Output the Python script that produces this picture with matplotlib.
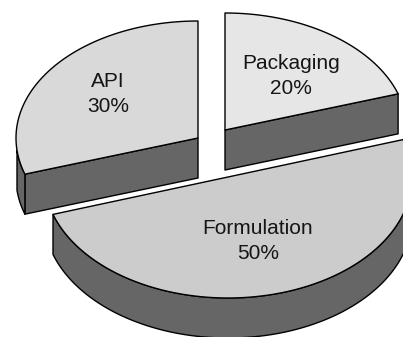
import numpy as np
import matplotlib
matplotlib.use("Agg")
import matplotlib.pyplot as plt
from matplotlib.patches import Polygon

# Cost share by development area
categories = ["Packaging", "Formulation", "API"]
shares = [20, 50, 30]

# Drawing constants, in pixel coordinates of the canvas
START_ANGLE = 90
DEPTH = 40
RADII = {"Packaging": (182, 117), "Formulation": (184, 121), "API": (182, 117)}
CENTRES = {"Packaging": (225, 130), "Formulation": (228, 177), "API": (198, 138)}
TOP_COLOURS = {"Packaging": "#e6e6e6", "Formulation": "#cccccc", "API": "#d9d9d9"}
WALL_COLOUR = "#666666"
LABEL_POS = {"Packaging": (291, 76), "Formulation": (258, 241), "API": (108, 94)}

plt.rcParams["font.family"] = ["Liberation Sans", "DejaVu Sans"]
fig = plt.figure(figsize=(4.03, 3.37), dpi=100)
ax = fig.add_axes([0, 0, 1, 1])
ax.set_xlim(0, 403)
ax.set_ylim(337, 0)
ax.axis("off")


def arc(centre, radii, a0, a1, n=120):
    t = np.radians(np.linspace(a0, a1, n))
    return np.column_stack([centre[0] + radii[0] * np.cos(t),
                            centre[1] - radii[1] * np.sin(t)])


def wall(points):
    lower = points[::-1] + np.array([0, DEPTH])
    ax.add_patch(Polygon(np.vstack([points, lower]), closed=True, fc=WALL_COLOUR,
                         ec="black", lw=1.0, joinstyle="round", zorder=2))


# Slices run clockwise from twelve o'clock
angle = START_ANGLE
for name, share in zip(categories, shares):
    sweep = 360 * share / sum(shares)
    a0, a1 = angle, angle - sweep
    angle = a1
    c, r = CENTRES[name], RADII[name]
    rim = arc(c, r, a0, a1)
    apex = np.array([c])

    # Side walls that face the viewer
    if name == "Packaging":
        wall(np.vstack([apex, rim[-1:]]))
    elif name == "Formulation":
        wall(arc(c, r, 0, a1))
    else:
        wall(np.vstack([apex, rim[:1]]))
        wall(arc(c, r, a0, -174, 20))

    ax.add_patch(Polygon(np.vstack([apex, rim]), closed=True, fc=TOP_COLOURS[name],
                         ec="black", lw=1.0, joinstyle="round", zorder=3))
    x, y = LABEL_POS[name]
    ax.text(x, y, f"{name}\n{share}%", ha="center", va="center", fontsize=15,
            color="#151515", linespacing=1.42, zorder=4)

fig.savefig("out.png", dpi=100, facecolor="white")
